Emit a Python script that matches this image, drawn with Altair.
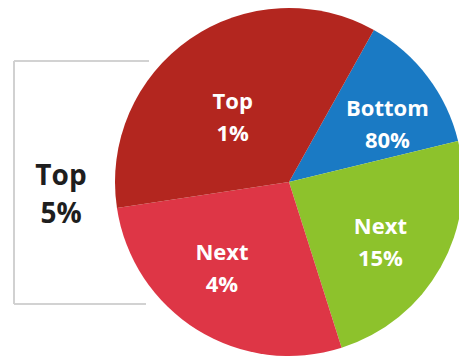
import altair as alt
import pandas as pd

categories = ["Bottom 80%", "Next 15%", "Next 4%", "Top 1%"]
shares = [13.1, 23.9, 27.5, 35.5]
colors = ["#1A7AC4", "#8DC22C", "#DE3646", "#B3261F"]
bracket_label = "Top 5%"

df = pd.DataFrame({"group": categories, "share": shares, "order": list(range(len(categories)))})
df["label"] = df["group"].str.replace(" ", "\n")

start = 29.2 * 3.14159265 / 180.0
theta_scale = alt.Scale(range=[start, start + 2 * 3.14159265])
color_scale = alt.Scale(domain=categories, range=colors)

CX, CY, R = 289, 182, 174

base = alt.Chart(df).encode(
    theta=alt.Theta("share:Q", stack=True, scale=theta_scale),
    order=alt.Order("order:Q"),
    x=alt.value(CX),
    y=alt.value(CY),
)

arcs = base.mark_arc(radius=R).encode(
    color=alt.Color("group:N", scale=color_scale, legend=None)
)

# per-label nudges (styling only)
nudges = {
    "Bottom 80%": (14, -9),
    "Next 15%": (-1, -7),
    "Next 4%": (-11, -19),
    "Top 1%": (4, 7),
}
label_layers = []
for cat in categories:
    ddx, ddy = nudges[cat]
    label_layers.append(
        base.mark_text(
            radius=106, font="Open Sans", fontWeight="bold", fontSize=22,
            color="white", lineBreak="\n", lineHeight=32, baseline="middle",
            align="center", dx=ddx, dy=ddy
        ).encode(
            text="label:N",
            opacity=alt.condition(alt.datum.group == cat, alt.value(1), alt.value(0)),
        )
    )

line_style = dict(color="#d0d0d0", strokeWidth=1.2)
top_rule = alt.Chart(df).mark_rule(**line_style).encode(
    x=alt.value(14), x2=alt.value(149), y=alt.value(61))
bottom_rule = alt.Chart(df).mark_rule(**line_style).encode(
    x=alt.value(14), x2=alt.value(146), y=alt.value(304))
left_rule = alt.Chart(df).mark_rule(**line_style).encode(
    x=alt.value(14), y=alt.value(61), y2=alt.value(304))

bracket_text = alt.Chart(pd.DataFrame({"t": [bracket_label.replace(" ", "\n")]})).mark_text(
    font="Open Sans", fontWeight="bold", fontSize=28, color="#1e1e1e",
    lineBreak="\n", lineHeight=38, baseline="middle", align="center"
).encode(x=alt.value(61), y=alt.value(177), text="t:N")

chart = alt.layer(top_rule, bottom_rule, left_rule, arcs, *label_layers, bracket_text).properties(
    width=459, height=358, autosize=alt.AutoSizeParams(type="none"), padding=0
).configure_view(stroke=None)

chart.save("out.html", embed_options={"renderer": "svg", "actions": False})
